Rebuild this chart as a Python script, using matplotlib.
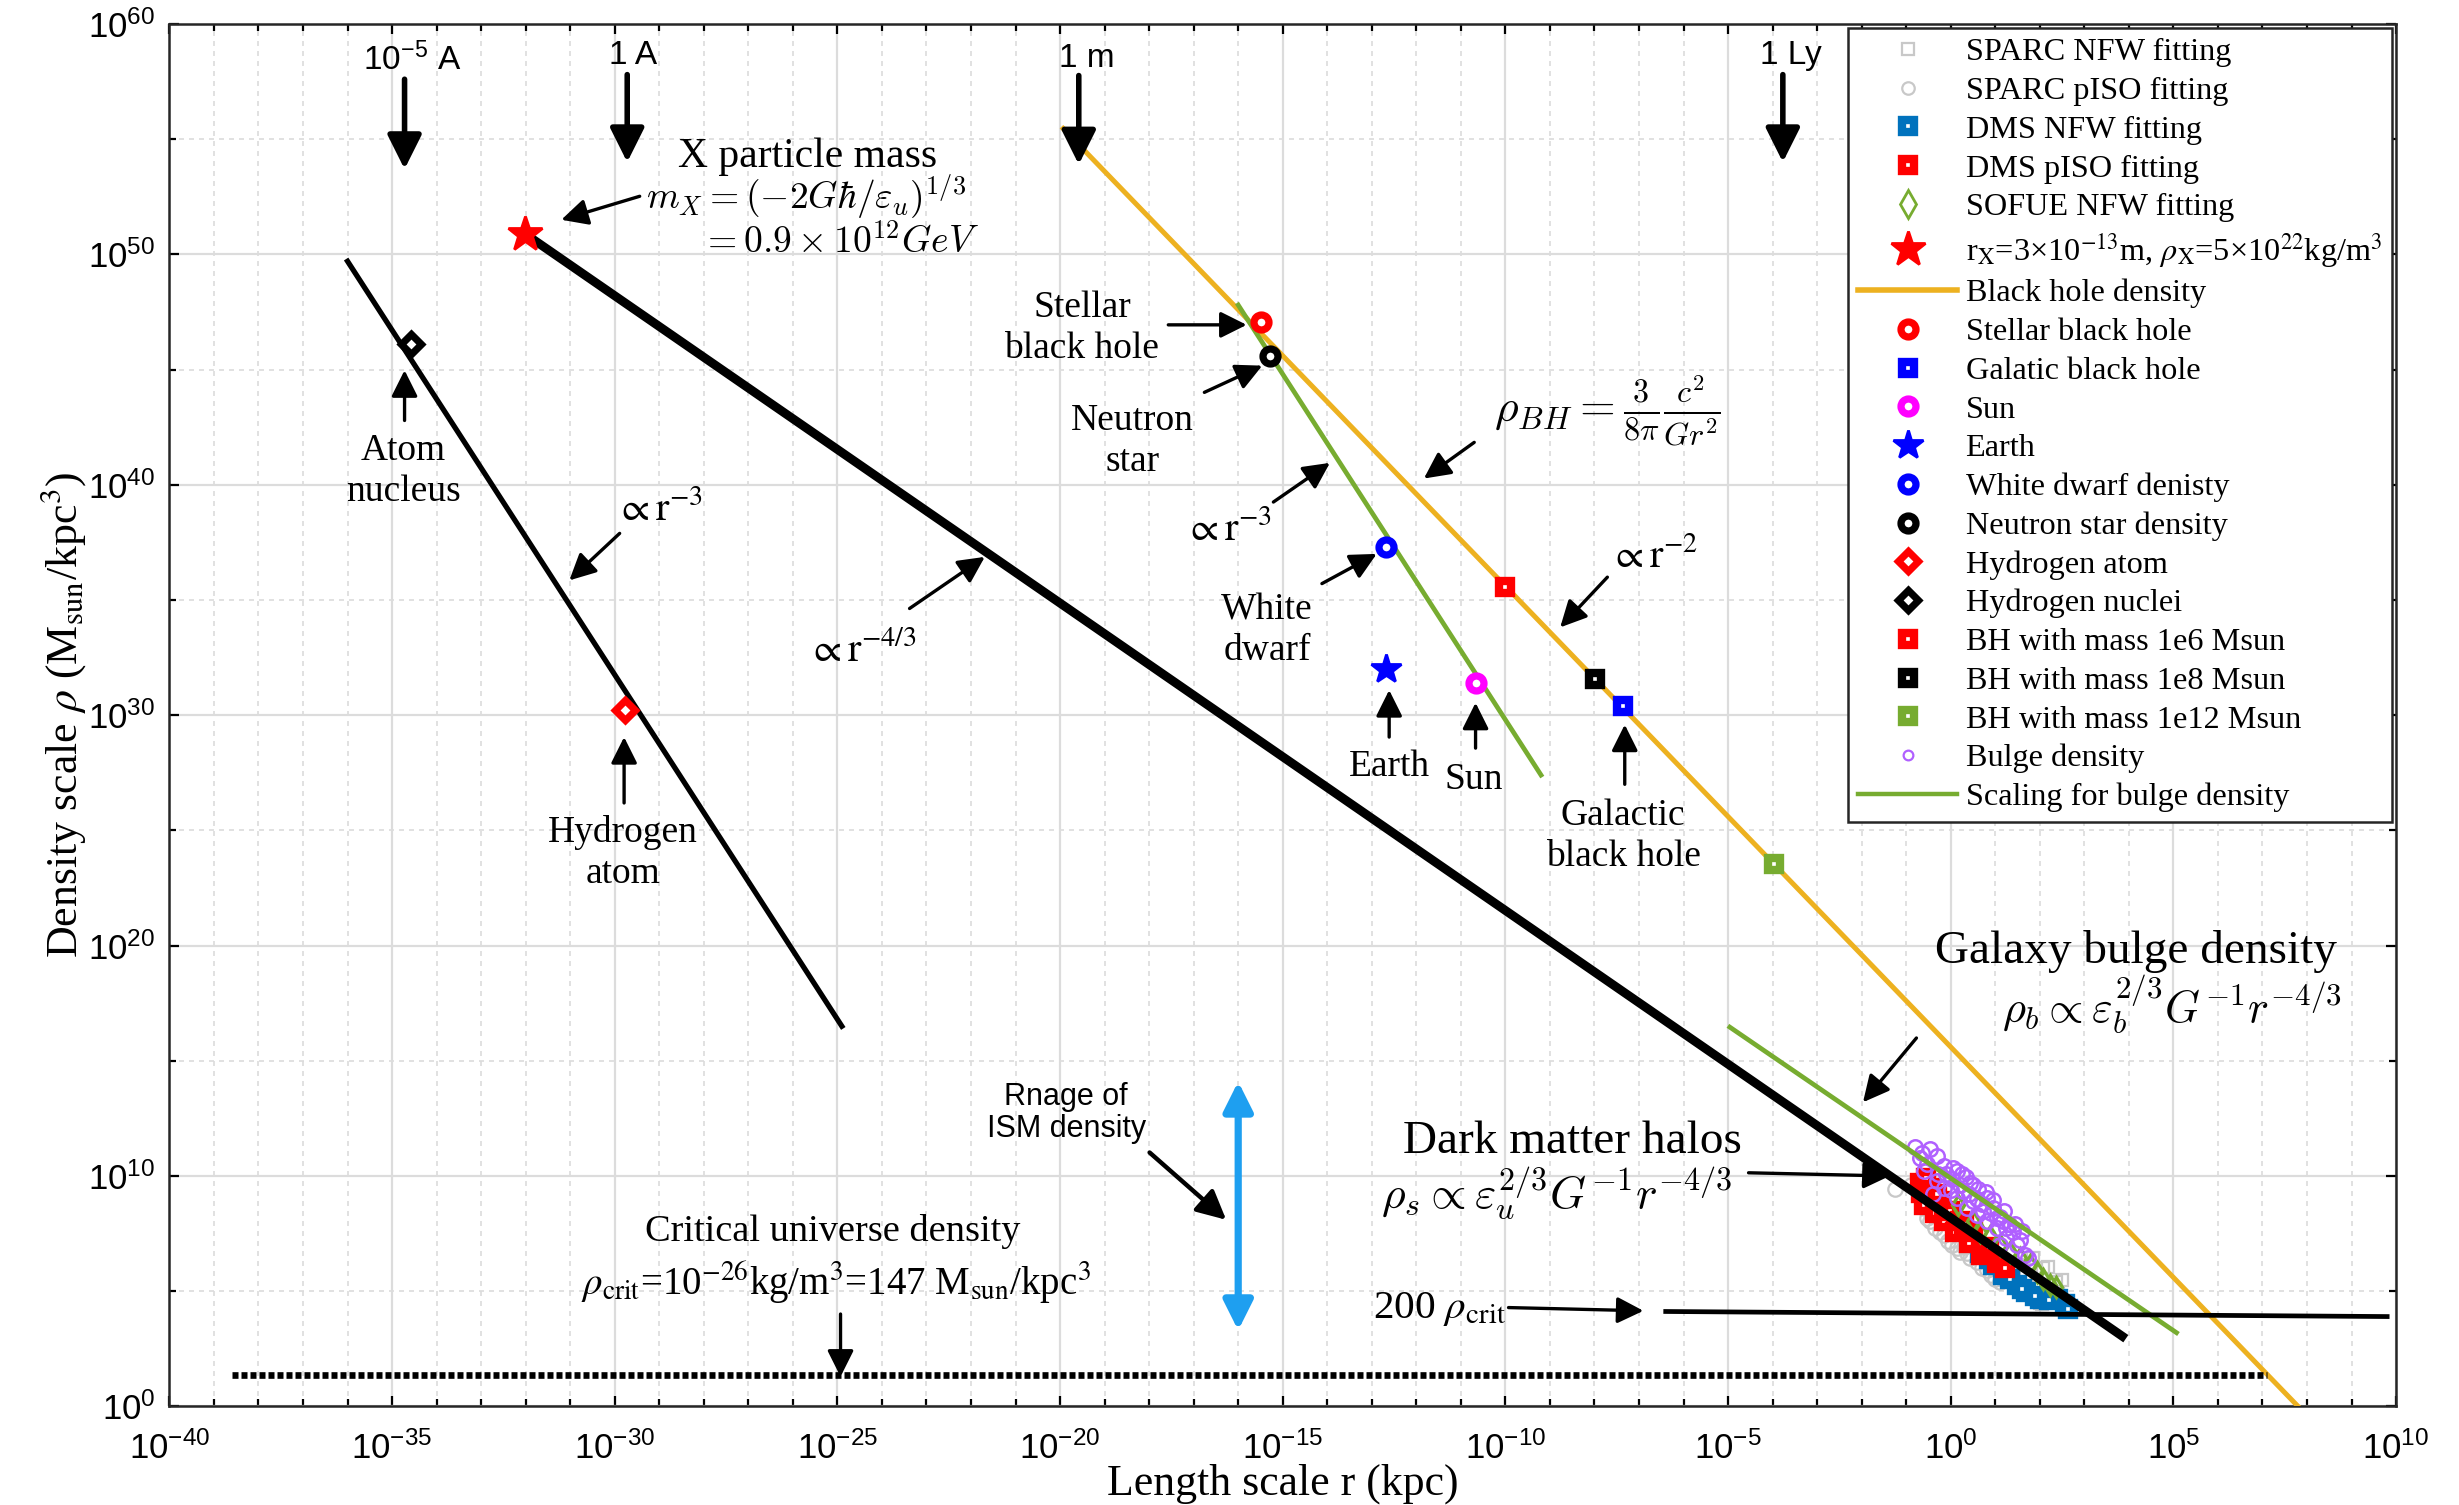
import numpy as np
import matplotlib
matplotlib.use('Agg')
import matplotlib.pyplot as plt
from matplotlib.lines import Line2D
from matplotlib.ticker import NullFormatter

plt.rcParams['font.family'] = ['Liberation Serif', 'DejaVu Serif']
plt.rcParams['mathtext.fontset'] = 'stix'

# ---- 数据 (log10 r [kpc], log10 rho [Msun/kpc^3]) ----
# 直线 (端点)
atom_line_lr = [-36.0, -24.9]
atom_line_lrho = [49.7, 16.5]
x_line_lr = [-32.0, 3.85]
x_line_lrho = [50.87, 3.05]
bh_line_lr = [-19.93, 8.1]
bh_line_lrho = [55.46, -0.6]
star_line_lr = [-16.0, -9.2]
star_line_lrho = [47.8, 27.4]
bulge_line_lr = [-4.96, 5.07]
bulge_line_lrho = [16.46, 3.2]
crit200_lr = [-6.4, 9.8]
crit200_lrho = [4.12, 3.9]
crit_lr = [-38.6, 7.1]
crit_lrho = [1.36, 1.36]
ism_lr = -16.0
ism_lrho = [3.3, 14.1]

# 单个天体
x_star = (-32.01, 50.87)
stellar_bh = (-15.49, 47.07)
neutron = (-15.28, 45.58)
white_dwarf = (-12.68, 37.3)
earth = (-12.68, 32.0)
sun = (-10.67, 31.4)
bh_1e6 = (-10.0, 35.57)
bh_1e8 = (-7.99, 31.55)
galactic_bh = (-7.35, 30.4)
bh_1e12 = (-3.97, 23.54)
h_atom = (-29.78, 30.22)
h_nuclei = (-34.58, 46.12)

# 星系拟合散点
sparc_nfw_lr = [2.07, 2.19, 2.37, 2.04, 2.41, 1.93, 1.55, 1.85, 1.70, 2.25, 2.5, 2.0]
sparc_nfw_lrho = [5.99, 6.06, 5.41, 4.46, 4.90, 5.12, 6.14, 6.43, 5.70, 5.00, 5.49, 4.5]
sparc_piso_lr = [-1.25, -0.61, -0.54, -0.35, -0.16, 0.02, 0.21, 0.36, 0.58, 0.81,
                 0.99, 1.10, -0.24, 0.13, 0.43, -0.46, -0.9, 0.7, -0.05, 0.3, 0.9]
sparc_piso_lrho = [9.42, 8.62, 8.18, 7.74, 7.45, 7.01, 6.72, 6.65, 6.28, 5.92,
                   5.55, 5.41, 7.59, 6.87, 6.43, 8.03, 9.6, 6.0, 7.2, 6.9, 5.7]
dms_nfw_lr = [0.66, 0.96, 1.18, 1.48, 1.70, 2.00, 2.41, 2.56, 2.63, 1.33, 0.85, 1.6,
              2.2, 1.9]
dms_nfw_lrho = [6.65, 6.14, 5.70, 5.26, 4.97, 4.68, 4.68, 4.46, 4.24, 5.55, 6.4, 5.1,
                4.6, 4.8]
dms_piso_lr = [-0.69, -0.67, -0.61, -0.35, -0.16, 0.10, 0.40, 0.69, 1.03, 1.22,
               -0.46, -0.24, -0.01, 0.21, 0.51, -0.55, -0.3, 0.3, 0.85]
dms_piso_lrho = [9.71, 9.27, 8.76, 8.40, 8.03, 7.59, 7.08, 6.57, 6.21, 6.02,
                 9.49, 8.91, 8.47, 8.03, 7.59, 9.9, 9.2, 7.9, 6.9]
sofue_lr = [0.51, 0.66, 0.88, 1.10, 1.33, 1.55, 1.78, 1.93, 2.07, 2.22, 2.37, 0.17]
sofue_lrho = [8.03, 7.59, 7.38, 7.01, 6.72, 6.43, 6.14, 5.85, 5.55, 5.26, 5.19, 8.76]
bulge_lr = [-0.80, -0.65, -0.46, -0.31, -0.54, -0.16, 0.06, 0.25, 0.43, 0.62, 0.81,
            -0.39, -0.16, 0.13, 0.36, 0.58, 0.81, 1.03, 1.25, 1.48, 1.66, 1.74,
            0.96, 1.18, 1.40, 1.55, 0.28, 0.51, 0.73, 1.03, 1.25, 0.02, -0.28,
            -0.69, 1.10, 0.4, 0.7, 0.9, 1.1, 1.3, 0.2, 0.0, -0.3, 0.5, 0.8,
            -0.6, -0.1, 0.15, 0.6, 1.2, 1.45, 1.6, 0.35, 0.95]
bulge_lrho = [11.27, 11.02, 11.17, 10.87, 10.51, 10.44, 10.36, 10.07, 9.71, 9.42, 9.05,
              9.20, 9.49, 9.05, 8.62, 8.32, 8.03, 7.74, 7.30, 7.01, 6.57, 6.43,
              8.62, 8.03, 7.59, 7.23, 9.34, 8.91, 8.47, 8.18, 7.74, 9.85, 10.07,
              10.80, 7.01, 9.2, 8.8, 8.4, 8.2, 7.9, 9.6, 9.4, 9.8, 9.6, 9.3,
              10.2, 10.1, 10.2, 9.0, 8.5, 7.9, 7.6, 9.95, 8.95]

x_major = np.arange(-40, 11, 5)
y_major = np.arange(0, 61, 10)

c_gray = '#c8c8c8'
c_blue = '#0072BD'
c_green = '#77AC30'
c_orange = '#EDB120'
c_purple = '#b060ff'


def P(v):
    return 10.0 ** np.asarray(v, dtype=float)


fig = plt.figure(figsize=(12.295, 7.525), dpi=200)
ax = fig.add_axes([0.0689, 0.0655, 0.9055, 0.9186])
ax.set_xscale('log')
ax.set_yscale('log')

# 散点
ax.plot(P(sparc_nfw_lr), P(sparc_nfw_lrho), ls='none', marker='s', ms=4.6, mfc='none', mec=c_gray, mew=0.8, zorder=3)
ax.plot(P(sparc_piso_lr), P(sparc_piso_lrho), ls='none', marker='o', ms=5.2, mfc='none', mec=c_gray, mew=0.8, zorder=3)
ax.plot(P(dms_nfw_lr), P(dms_nfw_lrho), ls='none', marker='s', ms=4.6, mfc='w', mec=c_blue, mew=3.0, zorder=3)
ax.plot(P(dms_piso_lr), P(dms_piso_lrho), ls='none', marker='s', ms=4.6, mfc='w', mec='red', mew=3.0, zorder=3)
ax.plot(P(sofue_lr), P(sofue_lrho), ls='none', marker='d', ms=5, mfc='none', mec=c_green, mew=1.2, zorder=3)
ax.plot(P(bulge_lr), P(bulge_lrho), ls='none', marker='o', ms=5.2, mfc='none', mec=c_purple, mew=0.9, zorder=3)

# 直线
ax.plot(P(atom_line_lr), P(atom_line_lrho), color='k', lw=1.9, zorder=4)
ax.plot(P(x_line_lr), P(x_line_lrho), color='k', lw=3.2, zorder=5)
ax.plot(P(bh_line_lr), P(bh_line_lrho), color=c_orange, lw=1.8, zorder=4)
ax.plot(P(star_line_lr), P(star_line_lrho), color=c_green, lw=1.7, zorder=4)
ax.plot(P(bulge_line_lr), P(bulge_line_lrho), color=c_green, lw=1.7, zorder=4)
ax.plot(P(crit200_lr), P(crit200_lrho), color='k', lw=1.7, zorder=5)
ax.plot(P(crit_lr), P(crit_lrho), color='k', lw=2.4, ls=(0, (0.9, 0.45)), zorder=4)

# 单点
ring = dict(ls='none', marker='o', ms=5.4, mfc='w', mew=2.6, zorder=6)
sq = dict(ls='none', marker='s', ms=4.6, mfc='w', mew=3.0, zorder=6)
dia = dict(ls='none', marker='D', ms=5.2, mfc='w', mew=2.6, zorder=6)
ax.plot(P(x_star[0]), P(x_star[1]), ls='none', marker='*', ms=13, color='red', zorder=7)
ax.plot(P(stellar_bh[0]), P(stellar_bh[1]), mec='red', **ring)
ax.plot(P(neutron[0]), P(neutron[1]), mec='k', **ring)
ax.plot(P(white_dwarf[0]), P(white_dwarf[1]), mec='blue', **ring)
ax.plot(P(sun[0]), P(sun[1]), mec='magenta', **ring)
ax.plot(P(earth[0]), P(earth[1]), ls='none', marker='*', ms=11, color='blue', zorder=6)
ax.plot(P(bh_1e6[0]), P(bh_1e6[1]), mec='red', **sq)
ax.plot(P(bh_1e8[0]), P(bh_1e8[1]), mec='k', **sq)
ax.plot(P(galactic_bh[0]), P(galactic_bh[1]), mec='blue', **sq)
ax.plot(P(bh_1e12[0]), P(bh_1e12[1]), mec=c_green, **sq)
ax.plot(P(h_atom[0]), P(h_atom[1]), mec='red', **dia)
ax.plot(P(h_nuclei[0]), P(h_nuclei[1]), mec='k', **dia)

# ISM 范围
ax.annotate('', xy=(P(ism_lr), P(ism_lrho[0])), xytext=(P(ism_lr), P(ism_lrho[1])),
            arrowprops=dict(arrowstyle='<|-|>', color='#1e9ff0', lw=2.6, mutation_scale=22,
                            shrinkA=0, shrinkB=0), zorder=6)


def arrow(tail, head, lw=1.2, ms=20):
    ax.annotate('', xy=(P(head[0]), P(head[1])), xytext=(P(tail[0]), P(tail[1])),
                arrowprops=dict(arrowstyle='-|>', color='k', lw=lw, mutation_scale=ms,
                                shrinkA=0, shrinkB=0), zorder=8)


def label(x, y, s, size=13.5, **kw):
    ax.text(P(x), P(y), s, fontsize=size, ha='center', va='center', zorder=8, **kw)


sans = ['Liberation Sans Narrow', 'Liberation Sans']

# 顶部尺度箭头
label(-34.54, 58.45, r'$\mathdefault{10^{-5}}$ A', size=12, family=sans)
label(-29.58, 58.64, '1 A', size=12, family=sans)
label(-19.40, 58.5, '1 m', size=12, family=sans)
label(-3.59, 58.64, '1 Ly', size=12, family=sans)
arrow((-34.72, 57.6), (-34.72, 53.7), lw=2.0, ms=26)
arrow((-29.72, 57.8), (-29.72, 54.0), lw=2.0, ms=26)
arrow((-19.58, 57.76), (-19.58, 53.9), lw=2.0, ms=26)
arrow((-3.77, 57.8), (-3.77, 54.0), lw=2.0, ms=26)

# X 粒子
label(-25.67, 54.25, 'X particle mass', size=15)
label(-25.70, 52.5, r'$m_X = (-2G\hbar/\varepsilon_u)^{1/3}$', size=13.5, math_fontfamily='cm')
label(-24.93, 50.5, r'$= 0.9 \times 10^{12} GeV$', size=13.5, math_fontfamily='cm')
arrow((-29.44, 52.52), (-31.2, 51.5))

two = dict(linespacing=1.25)
label(-34.75, 40.6, 'Atom\nnucleus', **two)
arrow((-34.72, 42.79), (-34.72, 44.97))
label(-29.01, 38.9, r'$\propto \mathrm{r}^{-3}$', size=14.5)
arrow((-29.89, 37.89), (-31.02, 35.85))
label(-29.82, 24.0, 'Hydrogen\natom', **two)
arrow((-29.79, 26.19), (-29.79, 29.05))
label(-24.44, 32.79, r'$\propto \mathrm{r}^{-4/3}$', size=14.5)
arrow((-23.38, 34.63), (-21.69, 36.87))

label(-19.51, 46.8, 'Stellar\nblack hole', **two)
arrow((-17.57, 46.94), (-15.81, 46.94))
label(-18.38, 41.9, 'Neutron\nstar', **two)
arrow((-16.76, 44.01), (-15.46, 45.17))
label(-16.23, 38.03, r'$\propto \mathrm{r}^{-3}$', size=14.5)
arrow((-15.21, 39.25), (-13.94, 40.95))
label(-7.71, 43.2, r'$\rho_{BH} = \frac{3}{8\pi}\frac{c^2}{Gr^2}$', size=16.5, math_fontfamily='cm')
arrow((-10.7, 41.84), (-11.83, 40.27))
label(-15.35, 33.67, 'White\ndwarf', **two)
arrow((-14.12, 35.71), (-12.89, 37.0))
label(-12.61, 27.76, 'Earth')
arrow((-12.61, 29.05), (-12.61, 31.09))
label(-10.70, 27.2, 'Sun')
arrow((-10.67, 28.57), (-10.67, 30.54))
label(-6.66, 36.87, r'$\propto \mathrm{r}^{-2}$', size=14.5)
arrow((-7.71, 35.99), (-8.77, 33.81))
label(-7.36, 24.76, 'Galactic\nblack hole', **two)
arrow((-7.32, 27.0), (-7.32, 29.59))

label(4.15, 19.73, 'Galaxy bulge density', size=17)
label(4.96, 17.48, r'$\rho_b \propto \varepsilon_b^{2/3} G^{-1} r^{-4/3}$', size=16, math_fontfamily='cm')
arrow((-0.77, 15.99), (-1.97, 13.2))

label(-19.86, 12.72, 'Rnage of\nISM density', size=11, family=sans, linespacing=1.1)
arrow((-17.99, 11.02), (-16.27, 8.1), lw=1.6, ms=22)

label(-8.49, 11.5, 'Dark matter halos', size=17)
label(-8.84, 9.25, r'$\rho_s \propto \varepsilon_u^{2/3} G^{-1} r^{-4/3}$', size=16.5, math_fontfamily='cm')
arrow((-4.54, 10.14), (-1.37, 10.0))

label(-11.48, 4.22, r'200 $\rho_{\mathrm{crit}}$', size=14.8)
arrow((-9.93, 4.29), (-6.9, 4.15))

label(-25.11, 7.6, 'Critical universe density', size=13.8)
label(-25.04, 5.37, r'$\rho_{\mathrm{crit}}$=10$^{-26}$kg/m$^{3}$=147 M$_{\mathrm{sun}}$/kpc$^{3}$', size=14)
arrow((-24.93, 4.01), (-24.93, 1.29))

# 坐标轴
ax.set_xlim(1e-40, 1e10)
ax.set_ylim(1e0, 1e60)
ax.set_xticks(P(x_major))
ax.set_xticks(P(np.arange(-40, 11, 1)), minor=True)
ax.set_yticks(P(y_major))
ax.set_yticks(P(np.arange(0, 61, 5)), minor=True)
ax.xaxis.set_minor_formatter(NullFormatter())
ax.yaxis.set_minor_formatter(NullFormatter())
ax.tick_params(which='both', direction='in', top=True, right=True, width=0.8)
ax.tick_params(which='major', length=3.6, labelsize=12.5, labelfontfamily=sans[1])
ax.tick_params(axis='x', which='major', pad=9)
ax.tick_params(axis='y', which='major', pad=5)
ax.tick_params(which='minor', length=2.4)
ax.grid(which='major', color='#dcdcdc', lw=0.8)
ax.grid(which='minor', color='#dcdcdc', lw=0.6, ls=(0, (3, 3)))
ax.set_axisbelow(True)
for s in ax.spines.values():
    s.set_linewidth(0.9)
    s.set_color('#262626')

ax.set_xlabel('Length scale r (kpc)', fontsize=15.8, labelpad=-1)
ax.set_ylabel(r'Density scale $\rho$ (M$_{\mathrm{sun}}$/kpc$^{3}$)', fontsize=15.8, labelpad=0)

# 图例
handles = [
    Line2D([], [], ls='none', marker='s', ms=4.2, mfc='none', mec=c_gray, mew=0.8),
    Line2D([], [], ls='none', marker='o', ms=4.5, mfc='none', mec=c_gray, mew=0.8),
    Line2D([], [], ls='none', marker='s', ms=4.6, mfc='w', mec=c_blue, mew=3.0),
    Line2D([], [], ls='none', marker='s', ms=4.6, mfc='w', mec='red', mew=3.0),
    Line2D([], [], ls='none', marker='d', ms=7, mfc='none', mec=c_green, mew=1.0),
    Line2D([], [], ls='none', marker='*', ms=13, color='red'),
    Line2D([], [], color=c_orange, lw=2.0),
    Line2D([], [], mec='red', **ring),
    Line2D([], [], mec='blue', **sq),
    Line2D([], [], mec='magenta', **ring),
    Line2D([], [], ls='none', marker='*', ms=11, color='blue'),
    Line2D([], [], mec='blue', **ring),
    Line2D([], [], mec='k', **ring),
    Line2D([], [], mec='red', **dia),
    Line2D([], [], mec='k', **dia),
    Line2D([], [], mec='red', **sq),
    Line2D([], [], mec='k', **sq),
    Line2D([], [], mec=c_green, **sq),
    Line2D([], [], ls='none', marker='o', ms=3.5, mfc='none', mec=c_purple, mew=0.8),
    Line2D([], [], color=c_green, lw=1.6),
]
labels = ['SPARC NFW fitting', 'SPARC pISO fitting', 'DMS NFW fitting', 'DMS pISO fitting',
          'SOFUE NFW fitting',
          r'r$_{\mathrm{X}}$=3×10$^{\mathrm{-13}}$m, $\rho_{\mathrm{X}}$=5×10$^{\mathrm{22}}$kg/m$^{3}$',
          'Black hole density', 'Stellar black hole', 'Galatic black hole', 'Sun', 'Earth',
          'White dwarf denisty', 'Neutron star density', 'Hydrogen atom', 'Hydrogen nuclei',
          'BH with mass 1e6 Msun', 'BH with mass 1e8 Msun', 'BH with mass 1e12 Msun',
          'Bulge density', 'Scaling for bulge density']
leg = ax.legend(handles, labels, loc='upper right', bbox_to_anchor=(0.998, 0.997),
                borderaxespad=0, fontsize=11.6, handlelength=3.1, handletextpad=0.25,
                labelspacing=0.285, borderpad=0.3, fancybox=False, framealpha=1,
                edgecolor='#262626')
leg.get_frame().set_linewidth(0.9)
leg.set_zorder(10)

fig.savefig('out.png', dpi=200)
